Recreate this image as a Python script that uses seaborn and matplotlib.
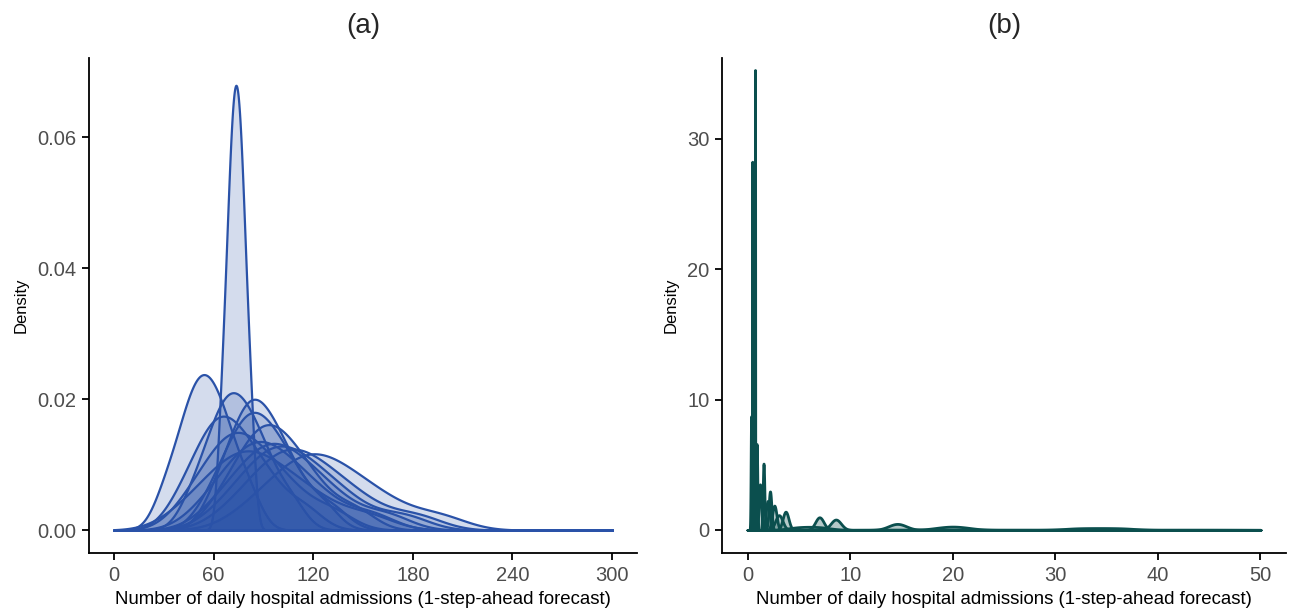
import numpy as np
import matplotlib
matplotlib.use("Agg")
import matplotlib.pyplot as plt
import seaborn as sns


# (a) forecast samples for each day
a_day01 = [64.5, 67.5, 69.3, 70.6, 71.8, 73.0, 74.0, 75.2, 76.4, 77.7, 79.5, 82.5]
a_day02 = [30.2, 38.6, 43.4, 47.2, 50.4, 53.5, 56.6, 60.0, 63.6, 67.7, 73.1, 82.2]
a_day03 = [47.0, 55.9, 61.1, 65.1, 68.6, 71.9, 75.5, 79.5, 83.8, 88.7, 95.0, 107.0]
a_day04 = [60.7, 69.5, 74.7, 78.7, 82.2, 85.4, 89.2, 93.6, 98.4, 103.8, 111.5, 126.0]
a_day05 = [57.6, 67.5, 73.2, 77.7, 81.6, 85.2, 89.4, 94.2, 99.5, 105.4, 114.0, 131.0]
a_day06 = [39.6, 49.5, 55.2, 59.7, 63.6, 67.2, 71.6, 76.8, 82.5, 88.9, 98.0, 115.0]
a_day07 = [63.1, 74.2, 80.6, 85.6, 89.9, 94.0, 98.6, 104.0, 109.7, 116.3, 127.0, 146.0]
a_day08 = [54.4, 67.0, 74.4, 80.1, 85.1, 89.7, 95.2, 101.8, 108.9, 117.5, 130.0, 155.0]
a_day09 = [61.0, 74.1, 81.7, 87.6, 92.8, 97.6, 103.2, 109.8, 116.9, 125.5, 138.0, 164.0]
a_day10 = [42.6, 56.8, 65.1, 71.6, 77.2, 82.4, 88.6, 96.0, 103.9, 113.5, 127.0, 153.0]
a_day11 = [71.3, 85.0, 92.9, 99.1, 104.5, 109.5, 115.6, 122.8, 130.6, 140.0, 154.0, 182.0]
a_day12 = [80.8, 95.7, 104.3, 111.0, 116.9, 122.3, 128.7, 136.3, 144.4, 154.5, 169.0, 196.0]
a_day13 = [65.9, 79.0, 86.7, 92.6, 97.8, 102.6, 108.4, 115.4, 122.9, 132.0, 145.0, 174.0]
a_day14 = [43.4, 55.0, 61.8, 67.0, 71.6, 75.9, 80.9, 86.9, 93.3, 101.0, 112.0, 132.0]

panel_a = [a_day01, a_day02, a_day03, a_day04, a_day05, a_day06, a_day07,
           a_day08, a_day09, a_day10, a_day11, a_day12, a_day13, a_day14]

# (b) forecast sample clusters and their kernel widths
b_values = [
    [0.715, 0.720, 0.725],
    [0.445, 0.450, 0.455],
    [0.33, 0.34, 0.35],
    [0.59, 0.60, 0.61],
    [0.87, 0.88, 0.89],
    [1.54, 1.55, 1.56],
    [1.15, 1.20, 1.25],
    [2.17, 2.18, 2.19],
    [1.90, 1.95, 2.00],
    [2.55, 2.60, 2.65],
    [3.00, 3.05, 3.10],
    [3.60, 3.70, 3.80],
    [6.95, 7.00, 7.05],
    [8.55, 8.60, 8.65],
    [4.5, 5.5, 6.5, 7.5],
    [14.5, 14.6, 14.7],
    [19.0, 20.0, 21.0],
    [32.0, 34.3, 36.6],
    [12.0, 18.0, 25.0, 32.0, 40.0, 47.0],
]
b_bw = [0.0105, 0.0135, 0.045, 0.035, 0.06, 0.078, 0.106, 0.135, 0.175,
        0.21, 0.35, 0.273, 0.41, 0.50, 1.0, 0.86, 1.3, 1.4, 4.0]

a_xticks = [0, 60, 120, 180, 240, 300]
a_yticks = [0.00, 0.02, 0.04, 0.06]
b_xticks = [0, 10, 20, 30, 40, 50]
b_yticks = [0, 10, 20, 30]

BLUE = "#2A52A8"
TEAL = "#0B4F4E"
XLABEL = "Number of daily hospital admissions (1-step-ahead forecast)"

sns.set_theme(style="ticks")
plt.rcParams["font.family"] = ["Liberation Sans", "DejaVu Sans"]

fig = plt.figure(figsize=(12.9, 6.12), dpi=100)
ax_a = fig.add_axes([0.0690, 0.0964, 0.4248, 0.8088])
ax_b = fig.add_axes([0.5597, 0.0964, 0.4372, 0.8088])

for vals in panel_a:
    sns.kdeplot(x=vals, ax=ax_a, fill=True, color=BLUE, alpha=0.2,
                linewidth=1.6, bw_adjust=0.85, cut=1e4, clip=(0, 300),
                gridsize=1500)

for vals, bw in zip(b_values, b_bw):
    factor = bw / np.std(vals, ddof=1)
    sns.kdeplot(x=vals, ax=ax_b, fill=True, color=TEAL, alpha=0.3,
                linewidth=2.0, bw_method=factor, cut=1e6, clip=(0, 50),
                gridsize=20000)

ax_a.set_xlim(-15, 315)
ax_a.set_ylim(-0.0035, 0.0721)
ax_a.set_xticks(a_xticks)
ax_a.set_yticks(a_yticks)
ax_a.set_yticklabels([f"{v:.2f}" for v in a_yticks])
ax_a.set_title("(a)", fontsize=20, pad=18)

ax_b.set_xlim(-2.5, 52.5)
ax_b.set_ylim(-1.77, 36.2)
ax_b.set_xticks(b_xticks)
ax_b.set_yticks(b_yticks)
ax_b.set_title("(b)", fontsize=20, pad=18)

for ax in (ax_a, ax_b):
    sns.despine(ax=ax)
    for side in ("left", "bottom"):
        ax.spines[side].set_linewidth(1.3)
        ax.spines[side].set_color("black")
    ax.tick_params(length=5, width=1.3, color="black", labelsize=14.5,
                   labelcolor="#4D4D4D", pad=4)
    ax.set_xlabel(XLABEL, fontsize=13.4, color="black", labelpad=5)
    ax.set_ylabel("Density", fontsize=12, color="black", labelpad=6)

fig.savefig("out.png", dpi=100, facecolor="white")
